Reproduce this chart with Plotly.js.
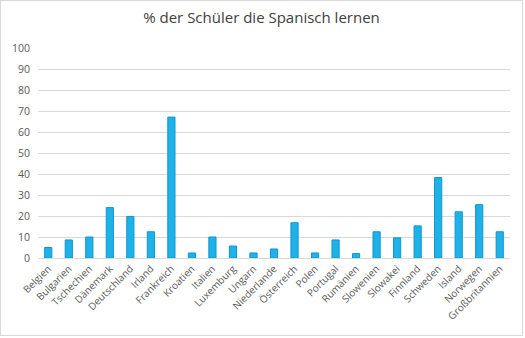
<!DOCTYPE html>
<html>
<head>
<meta charset="utf-8">
<script src="https://cdn.plot.ly/plotly-3.0.1.min.js"></script>
<style>
html,body{margin:0;padding:0;background:#fff;}
#chart{width:521px;height:334px;border:1px solid #d9d9d9;}
</style>
</head>
<body>
<div id="chart"></div>
<script>
const countries = ["Belgien","Bulgarien","Tschechien","Dänemark","Deutschland","Irland","Frankreich","Kroatien","Italien","Luxemburg","Ungarn","Niederlande","Österreich","Polen","Portugal","Rumänien","Slowenien","Slowakei","Finnland","Schweden","Island","Norwegen","Großbritannien"];
const values = [5, 8.6, 10, 24, 19.8, 12.5, 67.1, 2.4, 10, 5.7, 2.4, 4.3, 16.8, 2.4, 8.6, 2.1, 12.5, 9.6, 15.3, 38.3, 22, 25.4, 12.5];
const yTicks = [0,10,20,30,40,50,60,70,80,90,100];

Plotly.newPlot('chart', [{
  type: 'bar',
  x: countries,
  y: values,
  marker: {color: '#1FB2E8', line: {color: '#0E96D0', width: 1}},
  hoverinfo: 'x+y'
}], {
  width: 521, height: 334,
  margin: {l: 37, r: 12, t: 47, b: 77},
  paper_bgcolor: '#fff', plot_bgcolor: '#fff',
  bargap: 0.65,
  title: {text: '% der Schüler die Spanisch lernen', x: 0.5, xanchor: 'center', y: 0.965, yanchor: 'top',
          font: {family: 'Open Sans, Liberation Sans, sans-serif', size: 15, color: '#404040'}},
  xaxis: {tickangle: -45, tickfont: {family: 'Open Sans, Liberation Sans, sans-serif', size: 10, color: '#595959'},
          showgrid: false, showline: true, linecolor: '#d9d9d9', ticks: '', automargin: false},
  yaxis: {range: [0, 100], tickvals: yTicks, ticktext: yTicks.map(String),
          tickfont: {family: 'Open Sans, Liberation Sans, sans-serif', size: 10.5, color: '#595959'},
          gridcolor: '#d9d9d9', zeroline: false, showline: false, ticks: '', ticklen: 0,
          ticklabelstandoff: 7, automargin: false},
  showlegend: false
}, {displayModeBar: false, staticPlot: true});
</script>
</body>
</html>
